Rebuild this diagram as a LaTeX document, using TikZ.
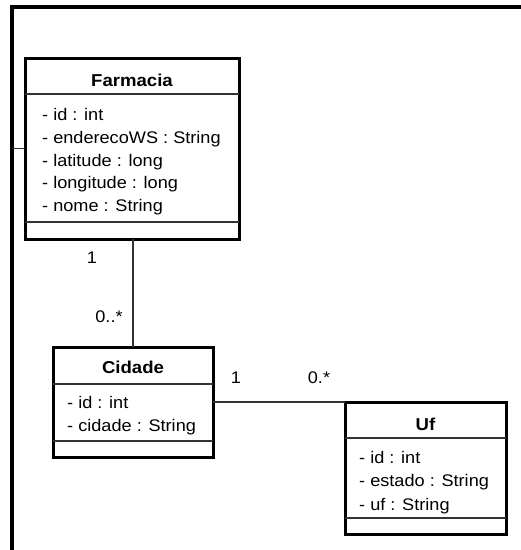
\documentclass[tikz,border=0pt]{standalone}
\usepackage{fontspec}
\setmainfont{Liberation Sans}[FakeStretch=1.08]
\begin{document}
\begin{tikzpicture}[x=1pt,y=-1pt,
  umlbox/.style={draw=black,line width=3pt,rectangle,inner sep=0pt,outer sep=0pt},
  sepline/.style={draw=black!80,line width=1.4pt},
  conn/.style={draw=black!80,line width=1.4pt},
  attr/.style={anchor=base west,inner sep=0pt,font=\fontsize{16.8}{20}\selectfont},
  title/.style={anchor=base,inner sep=0pt,font=\bfseries\fontsize{17.2}{20}\selectfont},
  mult/.style={anchor=base,inner sep=0pt,font=\fontsize{16.8}{20}\selectfont}]
\useasboundingbox (0,0) rectangle (521,550);
% frame
\draw[line width=4pt] (12,552) -- (12,7) -- (523,7);
% boxes
\node[umlbox,minimum width=214pt,minimum height=181pt] (farm) at (132,148.5) {};
\node[umlbox,minimum width=160pt,minimum height=110pt] (cid) at (133,402) {};
\node[umlbox,minimum width=161pt,minimum height=132pt] (uf) at (425.5,468) {};
% separators
\draw[sepline] (25,94) -- (239,94);
\draw[sepline] (25,222) -- (239,222);
\draw[sepline] (53,384) -- (213,384);
\draw[sepline] (53,441) -- (213,441);
\draw[sepline] (345,438) -- (506,438);
\draw[sepline] (345,518) -- (506,518);
% titles
\node[title] (tfarm) at (132,86) {Farmacia};
\node[title] (tcid) at (133,373) {Cidade};
\node[title] (tuf) at (425.5,430) {Uf};
% attributes
\node[attr] (f1) at (42,120.5) {- id : int};
\node[attr] (f2) at (42,143.3) {- enderecoWS : String};
\node[attr] (f3) at (42,166) {- latitude : long};
\node[attr] (f4) at (42,188.8) {- longitude : long};
\node[attr] (f5) at (42,211.5) {- nome : String};
\node[attr] (c1) at (67,408.3) {- id : int};
\node[attr] (c2) at (67,431.5) {- cidade : String};
\node[attr] (u1) at (359,463) {- id : int};
\node[attr] (u2) at (359,486.5) {- estado : String};
\node[attr] (u3) at (359,510) {- uf : String};
% connectors
\coordinate (fr) at (12,148.5);
\draw[conn] (fr) -- (farm.west);
\draw[conn] (farm.south -| cid.north) -- (cid.north);
\draw[conn] (cid.east) -- (cid.east -| uf.west);
% multiplicities
\node[mult] (m1) at (92,263) {1};
\node[mult] (m2) at (109,322) {0..*};
\node[mult] (m3) at (236,383) {1};
\node[mult] (m4) at (319,383) {0.*};
\end{tikzpicture}
\end{document}
